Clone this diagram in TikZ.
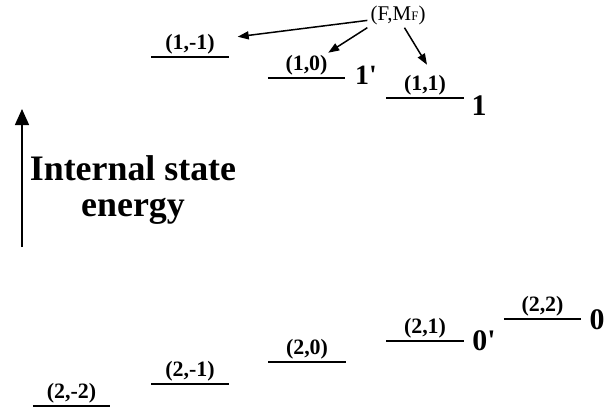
\documentclass[tikz,border=0pt]{standalone}
\usepackage{fontspec}
\setmainfont{Liberation Serif}
\usetikzlibrary{arrows.meta}

\begin{document}
\begin{tikzpicture}[
  x=1bp, y=-1bp,
  level/.style={minimum width=77bp, inner xsep=0pt, inner ysep=3bp, anchor=south,
                font=\fontsize{22}{22}\selectfont\bfseries},
  levelline/.style={line width=2bp},
  arrow/.style={-{Triangle[length=11bp,width=8bp]}, line width=1.5bp},
  energy/.style={-{Triangle[length=16bp,width=14bp]}, line width=1.5bp}
]
\useasboundingbox (0,0) rectangle (615,409);

% F=1 levels
\node[level] (l1m) at (190,57) {(1,-1)};
\node[level] (l10) at (306.5,78) {(1,0)};
\node[level] (l11) at (425,98) {(1,1)};

% F=2 levels
\node[level] (l2m2) at (71.5,406) {(2,-2)};
\node[level] (l2m1) at (190,384) {(2,-1)};
\node[level] (l20) at (307,362) {(2,0)};
\node[level] (l21) at (425,341) {(2,1)};
\node[level] (l22) at (542.5,319) {(2,2)};

\foreach \n in {l1m,l10,l11,l2m2,l2m1,l20,l21,l22}
  \draw[levelline] (\n.south west) -- (\n.south east);

% state tags
\node[font=\fontsize{28}{28}\selectfont\bfseries, inner sep=0pt] (t1p) at (366,75) {1\textquotesingle};
\node[font=\fontsize{30}{30}\selectfont\bfseries, inner sep=0pt] (t1) at (479,106) {1};
\node[font=\fontsize{30}{30}\selectfont\bfseries, inner sep=0pt] (t0p) at (484,341) {0\textquotesingle};
\node[font=\fontsize{30}{30}\selectfont\bfseries, inner sep=0pt] (t0) at (597,320) {0};

% quantum numbers
\node[font=\fontsize{21}{21}\selectfont, inner sep=3bp] (fm) at (398,15) {(F,M{\fontsize{13}{13}\selectfont F})};
\draw[arrow] (fm.190) -- ([shift={(9,6)}]l1m.north east);
\draw[arrow] (fm.south west) -- ([shift={(-17,1)}]l10.north east);
\draw[arrow] (fm.-63) -- ([shift={(2,-7)}]l11.north);

% energy axis
\coordinate (ebot) at (22,247);
\coordinate (etop) at (22,109);
\draw[energy] (ebot) -- (etop);
\node[align=center, inner sep=0pt, anchor=north,
      font=\fontsize{36}{37}\selectfont\bfseries] (elabel) at (133,155) {Internal state\\energy};
\end{tikzpicture}
\end{document}
